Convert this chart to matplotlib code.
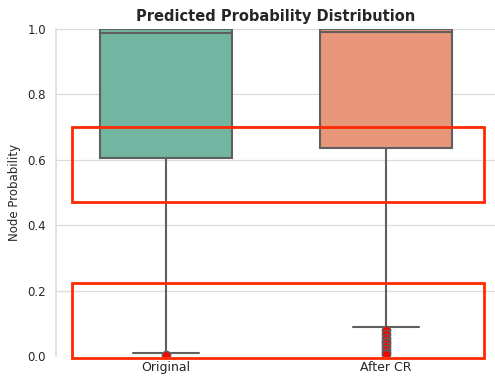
import matplotlib.pyplot as plt
import seaborn as sns
from matplotlib.patches import Rectangle

# summary stats for the two prediction runs
groups = ["Original", "After CR"]
q1 = [0.606, 0.636]
medians = [0.988, 0.990]
q3 = [1.0, 1.0]
whisker_low = [0.009, 0.087]
whisker_high = [1.0, 1.0]
fliers = [
    [0.003],
    [0.078, 0.066, 0.056, 0.047, 0.038, 0.029, 0.02, 0.012, 0.005],
]
box_colors = ["#72b6a1", "#e9977a"]

# highlighted probability bands (y ranges)
bands = [(0.471, 0.700), (-0.006, 0.223)]

sns.set_theme(style="whitegrid")
fig = plt.figure(figsize=(4.95, 3.77), dpi=100)
ax = fig.add_axes([0.113, 0.056, 0.889, 0.867])

stats = []
for i, g in enumerate(groups):
    stats.append(dict(label=g, q1=q1[i], med=medians[i], q3=q3[i],
                      whislo=whisker_low[i], whishi=whisker_high[i],
                      fliers=fliers[i]))

line_col = "#5f5f5f"
bp = ax.bxp(stats, positions=range(len(groups)), widths=0.6, patch_artist=True,
            boxprops=dict(edgecolor=line_col, linewidth=1.5),
            medianprops=dict(color=line_col, linewidth=1.5),
            whiskerprops=dict(color=line_col, linewidth=1.5),
            capprops=dict(color=line_col, linewidth=1.5),
            capwidths=0.3,
            flierprops=dict(marker="o", markerfacecolor="red",
                            markeredgecolor=line_col, markersize=6,
                            markeredgewidth=1.0, linestyle="none"))
for patch, c in zip(bp["boxes"], box_colors):
    patch.set_facecolor(c)
for fl in bp["fliers"]:
    fl.set_zorder(4)

for lo, hi in bands:
    ax.add_patch(Rectangle((-0.427, lo), 1.872, hi - lo, fill=False,
                           edgecolor="#ff2a00", linewidth=2, clip_on=False,
                           zorder=5))

ax.set_xlim(-0.5, 1.5)
ax.set_ylim(0, 1)
ax.set_xticks(range(len(groups)))
ax.set_xticklabels(groups, fontsize=9)
ax.tick_params(axis="x", length=0, pad=4)
ax.tick_params(axis="y", labelsize=8.5, length=0, pad=7)
ax.grid(axis="x", visible=False)
ax.grid(axis="y", color="#dddddd", linewidth=0.9)
ax.spines["left"].set_color("#dddddd")
ax.set_ylabel("Node Probability", fontsize=8.5, labelpad=5)
ax.set_title("Predicted Probability Distribution", fontsize=10.5,
             fontweight="bold", pad=6)
for s in ["top", "right", "bottom"]:
    ax.spines[s].set_visible(False)

fig.savefig("out.png", dpi=100)
